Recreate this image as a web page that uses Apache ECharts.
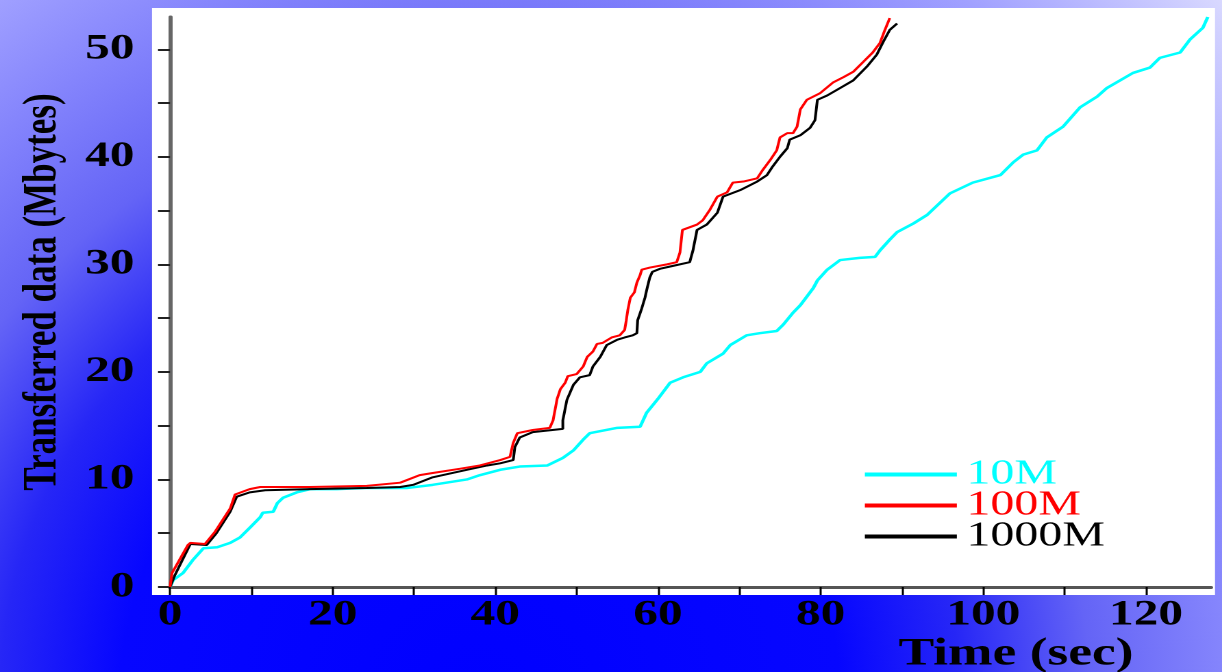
<!DOCTYPE html>
<html>
<head>
<meta charset="utf-8">
<script src="https://cdn.jsdelivr.net/npm/echarts@6/dist/echarts.min.js"></script>
<style>
html,body{margin:0;padding:0;width:1222px;height:672px;overflow:hidden;}
body{background:radial-gradient(circle 1040px at 480px 700px,#0000ff 0px,#0606ff 360px,#2626f6 480px,#6464f6 610px,#8484fc 740px,#a0a0ff 850px,#dcdcff 1030px);}
#chart{position:absolute;left:0;top:0;height:672px;transform-origin:0 0;}
</style>
</head>
<body>
<div id="chart"></div>
<script>
// ---- data ----
const seriesNames = ['10M', '100M', '1000M'];

const t10 = [0,0.4,1.6,2.8,4.1,5.8,7.4,8.6,9.8,11.1,11.4,12.7,13.2,13.9,15.6,17.2,20.5,24.0,29.1,32.3,36.5,38.1,40.6,43.0,46.4,48.3,49.6,50.8,51.6,55.0,57.8,58.6,60.0,61.5,63.1,65.2,66.0,68.0,68.9,70.9,72.5,74.6,75.4,76.6,77.5,78.3,79.1,79.6,80.8,82.4,84.8,86.7,87.3,88.5,89.4,91.4,93.1,95.9,98.7,102.1,103.7,104.9,106.6,107.8,109.8,111.9,114.0,115.2,118.4,120.5,121.7,124.2,125.4,127.0,127.6];
const v10 = [0,0.65,1.3,2.5,3.6,3.7,4.1,4.6,5.5,6.5,6.9,7.0,7.8,8.3,8.8,9.1,9.1,9.2,9.2,9.5,10.0,10.4,10.9,11.2,11.3,12.0,12.7,13.7,14.3,14.8,14.9,16.2,17.5,19.0,19.5,20.0,20.8,21.7,22.5,23.4,23.6,23.8,24.4,25.5,26.2,27.0,27.8,28.5,29.5,30.4,30.6,30.7,31.3,32.3,33.0,33.8,34.6,36.6,37.6,38.3,39.5,40.2,40.6,41.8,42.8,44.6,45.6,46.4,47.8,48.3,49.2,49.7,50.9,52.0,53.0];

const t100 = [0,0.25,2.2,2.5,4.3,5.5,7.4,8.0,9.8,11.1,17.2,24.2,28.3,30.7,32.3,35.7,38.1,40.6,41.8,42.2,42.7,44.6,46.7,47.1,47.6,48.0,48.6,48.9,50.0,50.8,51.3,52.0,52.5,53.2,54.3,55.3,55.9,56.1,56.3,56.6,57.1,57.4,57.8,58.0,59.0,61.1,62.3,62.7,63.0,64.8,65.5,66.4,67.3,68.5,69.2,70.5,72.2,72.9,73.8,74.6,75.0,75.9,76.6,77.1,77.5,78.3,79.9,81.5,82.8,84.0,85.2,86.4,87.3,87.9,88.5];
const v100 = [0,1.3,3.9,4.1,4.0,5.1,7.3,8.6,9.1,9.3,9.3,9.4,9.7,10.4,10.6,11.0,11.3,11.8,12.1,13.4,14.3,14.6,14.8,15.5,17.5,18.4,19.0,19.6,19.8,20.5,21.4,21.9,22.6,22.7,23.2,23.4,23.9,24.8,25.8,26.9,27.4,28.3,29.0,29.5,29.7,30.0,30.2,31.1,33.2,33.7,34.1,35.1,36.3,36.7,37.6,37.7,38.0,38.8,39.7,40.6,41.8,42.2,42.2,42.8,44.4,45.3,45.9,46.9,47.4,47.9,48.8,49.7,50.6,51.8,52.9];

const t1000 = [0,0.6,2.5,4.5,5.7,7.4,8.2,9.8,11.7,17.2,24.2,28.3,29.9,32.3,36.5,39.0,40.6,42.2,42.4,43.0,44.6,48.3,48.3,48.8,49.6,50.4,51.6,52.0,52.9,53.7,55.0,55.9,56.9,57.4,57.5,58.0,58.4,58.7,59.0,59.3,60.3,61.5,63.9,64.3,64.8,66.0,67.3,68.0,70.1,72.2,73.4,74.1,75.0,75.9,76.2,77.5,78.7,79.3,79.6,80.8,82.4,84.0,85.7,86.9,87.7,88.5,89.4];
const v1000 = [0,1.1,4.0,3.9,5.0,7.0,8.4,8.8,9.0,9.1,9.2,9.3,9.5,10.2,10.9,11.3,11.5,11.8,13.0,13.9,14.4,14.7,15.5,17.4,18.8,19.5,19.7,20.5,21.4,22.5,23.0,23.2,23.4,23.6,24.8,25.9,26.9,27.9,28.8,29.3,29.6,29.8,30.2,31.3,33.2,33.7,34.8,36.3,36.9,37.7,38.3,39.1,40.0,40.8,41.6,42.0,42.7,43.4,45.3,45.7,46.4,47.1,48.4,49.5,50.7,51.8,52.4];

const xTickValues = [0,10,20,30,40,50,60,70,80,90,100,110,120];
const xLabelValues = [0,20,40,60,80,100,120];
const yTickValues = [0,5,10,15,20,25,30,35,40,45,50];
const yLabelValues = [0,10,20,30,40,50];

const xTitle = 'Time (sec)';
const yTitle = 'Transferred data (Mbytes)';

// ---- layout ----
const SX = 1.37;               // horizontal stretch of the reference
const W = 1222 / SX;
const el = document.getElementById('chart');
el.style.width = W + 'px';
el.style.transform = 'scaleX(' + SX + ')';

const chart = echarts.init(el, null, { renderer: 'canvas', devicePixelRatio: 2 });

function pairs(t, v) { return t.map((x, i) => [x, v[i]]); }
const FONT = '"Liberation Serif", "Times New Roman", serif';

const option = {
  animation: false,
  backgroundColor: 'transparent',
  graphic: [
    { type: 'rect', z: -10, silent: true,
      shape: { x: 152 / SX, y: 8, width: (1215 - 152) / SX, height: 587 },
      style: { fill: '#ffffff' } },
    { type: 'text', x: 1016 / SX, y: 635,
      style: { text: xTitle, font: 'bold 39px ' + FONT, fill: '#000',
               align: 'center', verticalAlign: 'top', textAlign: 'center', textVerticalAlign: 'top' } }
  ],
  grid: { left: 170 / SX, right: (1222 - 1211) / SX, top: 17, bottom: 85, containLabel: false },
  legend: {
    orient: 'vertical',
    left: 858 / SX,
    top: 452,
    icon: 'rect',
    itemWidth: 92 / SX,
    itemHeight: 4,
    itemGap: -4,
    selectedMode: false,
    textStyle: { fontFamily: FONT, fontSize: 35, padding: [0, 0, 0, 2] },
    data: [
      { name: seriesNames[0], textStyle: { color: '#00ffff' } },
      { name: seriesNames[1], textStyle: { color: '#ff0000' } },
      { name: seriesNames[2], textStyle: { color: '#000000' } }
    ]
  },
  xAxis: {
    type: 'value', min: 0, max: 128,
    axisLine: { show: true, onZero: false, lineStyle: { color: '#555', width: 3 } },
    axisTick: { show: true, customValues: xTickValues, length: 8, lineStyle: { color: '#000', width: 1.5 } },
    axisLabel: { customValues: xLabelValues, margin: 10, fontFamily: FONT, fontWeight: 'bold', fontSize: 36, color: '#000' },
    splitLine: { show: false }
  },
  yAxis: {
    type: 'value', min: 0, max: 53,
    name: yTitle, nameLocation: 'middle', nameGap: 75,
    nameTextStyle: { fontFamily: FONT, fontWeight: 'bold', fontSize: 35, color: '#000', padding: [0, 0, 0, 20] },
    axisLine: { show: true, onZero: false, lineStyle: { color: '#666', width: 3 } },
    axisTick: { show: true, customValues: yTickValues, length: 12 / SX, lineStyle: { color: '#222', width: 2 } },
    axisLabel: { customValues: yLabelValues, margin: 26, fontFamily: FONT, fontWeight: 'bold', fontSize: 36, color: '#000' },
    splitLine: { show: false }
  },
  series: [
    { name: seriesNames[0], type: 'line', data: pairs(t10, v10), symbol: 'none',
      color: '#00ffff', lineStyle: { color: '#00ffff', width: 2.5 } },
    { name: seriesNames[2], type: 'line', data: pairs(t1000, v1000), symbol: 'none',
      color: '#000000', lineStyle: { color: '#000000', width: 2 } },
    { name: seriesNames[1], type: 'line', data: pairs(t100, v100), symbol: 'none',
      color: '#ff0000', lineStyle: { color: '#ff0000', width: 2 } }
  ]
};
chart.setOption(option);
</script>
</body>
</html>
